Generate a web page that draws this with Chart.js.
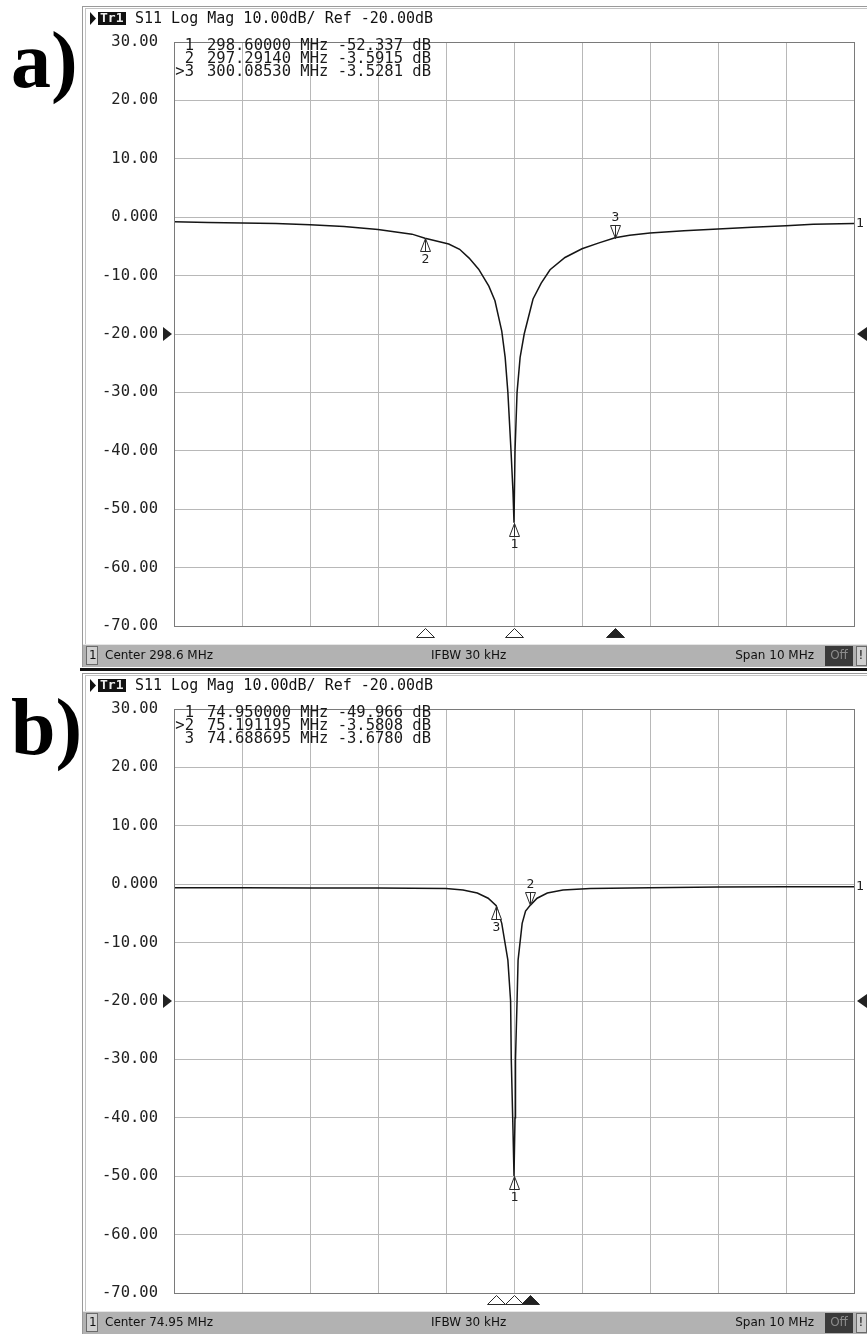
<!DOCTYPE html>
<html>
<head>
<meta charset="utf-8">
<title>S11 resonance</title>
<script src="https://cdn.jsdelivr.net/npm/chart.js@4"></script>
<style>
  body { margin: 0; background: #fff; }
  canvas { display: block; }
</style>
</head>
<body>
<canvas id="panelA" width="867" height="667"></canvas>
<canvas id="panelB" width="867" height="667"></canvas>
<script>
// trace a: S11 magnitude around 298.6 MHz
const freqA = [293.6, 294.1, 294.6, 295.1, 295.6, 296.1, 296.6, 297.1, 297.2914, 297.64,
  297.8, 297.94, 298.08, 298.23, 298.32, 298.42, 298.47, 298.51, 298.556, 298.585,
  298.6, 298.615, 298.645, 298.69, 298.75, 298.88, 299.0, 299.13, 299.35, 299.6,
  299.85, 300.0853, 300.3, 300.6, 301.1, 301.6, 302.1, 302.6, 303.0, 303.6];
const dbA = [-0.8, -0.9, -1.0, -1.1, -1.3, -1.6, -2.1, -2.9, -3.5915, -4.6,
  -5.5, -7.0, -8.9, -11.8, -14.3, -19.5, -24, -30, -40, -47,
  -52.337, -40, -30, -24, -20, -14, -11.3, -9.0, -6.9, -5.4,
  -4.4, -3.5281, -3.1, -2.7, -2.3, -2.0, -1.7, -1.45, -1.2, -1.1];

// trace b: S11 magnitude around 74.95 MHz
const freqB = [69.95, 70.95, 71.95, 72.95, 73.45, 73.95, 74.2, 74.41, 74.57, 74.688695,
  74.77, 74.86, 74.9, 74.91, 74.935, 74.95, 74.965, 74.972, 74.995, 75.01,
  75.07, 75.12, 75.191195, 75.29, 75.44, 75.67, 76.07, 76.95, 77.95, 78.95, 79.95];
const dbB = [-0.6, -0.6, -0.65, -0.65, -0.7, -0.75, -1.0, -1.5, -2.4, -3.678,
  -6.7, -13, -20, -30, -42, -49.966, -40, -30, -20, -13,
  -6.7, -4.6, -3.5808, -2.4, -1.5, -1.0, -0.75, -0.6, -0.5, -0.45, -0.45];

// markers
const markerFreqA = [298.6, 297.2914, 300.0853];
const markerDbA = [-52.337, -3.5915, -3.5281];
const markerAboveA = [false, false, true];
const activeMarkerA = 3;

const markerFreqB = [74.95, 75.191195, 74.688695];
const markerDbB = [-49.966, -3.5808, -3.678];
const markerAboveB = [false, true, false];
const activeMarkerB = 2;

// sweep settings
const centerA = 298.6;
const centerB = 74.95;
const spanMHz = 10;
const dbMin = -70, dbMax = 30, dbStep = 10, refLevel = -20;
const traceTitle = 'S11 Log Mag 10.00dB/ Ref -20.00dB';

const MONO = '"DejaVu Sans Mono", monospace';
const SANS = '"DejaVu Sans", sans-serif';

const panels = {
  panelA: { letter: 'a)', center: centerA, mf: markerFreqA, md: markerDbA, above: markerAboveA, active: activeMarkerA, sepTop: false },
  panelB: { letter: 'b)', center: centerB, mf: markerFreqB, md: markerDbB, above: markerAboveB, active: activeMarkerB, sepTop: true }
};

function tri(ctx, x, y, w, h, dir, fill) {
  // tip at (x, y); dir = 1 -> body below the tip, -1 -> body above
  ctx.beginPath();
  ctx.moveTo(x, y);
  ctx.lineTo(x - w / 2, y + dir * h);
  ctx.lineTo(x + w / 2, y + dir * h);
  ctx.closePath();
  if (fill) { ctx.fillStyle = fill; ctx.fill(); }
  ctx.stroke();
}

const vnaFrame = {
  id: 'vnaFrame',
  beforeDraw(chart) {
    const p = panels[chart.canvas.id];
    const ctx = chart.ctx;
    ctx.save();
    ctx.fillStyle = '#fff';
    ctx.fillRect(0, 0, chart.width, chart.height);

    if (p.sepTop) {
      ctx.fillStyle = '#111';
      ctx.fillRect(80, 1, 787, 3);
    }
    // window edges
    ctx.fillStyle = '#9a9a9a';
    ctx.fillRect(82, 6, 785, 1);
    ctx.fillRect(82, 6, 1, 661);
    ctx.fillStyle = '#c4c4c4';
    ctx.fillRect(85, 8, 1, 659);
    ctx.fillRect(85, 8, 782, 1);

    // panel letter
    ctx.fillStyle = '#000';
    ctx.font = 'bold 80px "Liberation Serif", serif';
    ctx.textBaseline = 'alphabetic';
    ctx.textAlign = 'left';
    ctx.fillText(p.letter, 11, 87);

    // trace title
    ctx.fillStyle = '#111';
    ctx.beginPath();
    ctx.moveTo(90, 12); ctx.lineTo(96, 18.5); ctx.lineTo(90, 25); ctx.closePath();
    ctx.fill();
    ctx.fillRect(98, 12, 28, 13);
    ctx.fillStyle = '#eee';
    ctx.font = 'bold 13px ' + MONO;
    ctx.textBaseline = 'middle';
    ctx.fillText('Tr1', 100, 19);
    ctx.fillStyle = '#111';
    ctx.font = '15px ' + MONO;
    ctx.fillText(traceTitle, 135, 19);

    // status bar
    ctx.fillStyle = '#b2b2b2';
    ctx.fillRect(83, 644, 784, 23);
    ctx.fillStyle = '#e6e6e6';
    ctx.fillRect(83, 644, 784, 1);
    ctx.fillStyle = '#d0d0d0';
    ctx.fillRect(86, 646, 12, 19);
    ctx.strokeStyle = '#6a6a6a';
    ctx.lineWidth = 1;
    ctx.strokeRect(86.5, 646.5, 11, 18);
    ctx.fillStyle = '#111';
    ctx.font = '12px ' + SANS;
    ctx.fillText('1', 89, 656);
    ctx.fillText('Center ' + p.center + ' MHz', 105, 656);
    ctx.fillText('IFBW 30 kHz', 431, 656);
    ctx.textAlign = 'right';
    ctx.fillText('Span ' + spanMHz + ' MHz', 814, 656);
    ctx.fillStyle = '#3a3a3a';
    ctx.fillRect(825, 646, 28, 20);
    ctx.fillStyle = '#8c8c8c';
    ctx.textAlign = 'center';
    ctx.fillText('Off', 839, 656);
    ctx.fillStyle = '#d0d0d0';
    ctx.fillRect(856, 646, 11, 20);
    ctx.strokeRect(856.5, 646.5, 10, 19);
    ctx.fillStyle = '#111';
    ctx.fillText('!', 861, 656);
    ctx.restore();
  },
  afterDraw(chart) {
    const p = panels[chart.canvas.id];
    const ctx = chart.ctx;
    const xs = chart.scales.x, ys = chart.scales.y;
    const area = chart.chartArea;
    ctx.save();
    ctx.strokeStyle = '#7a7a7a';
    ctx.lineWidth = 1;
    ctx.strokeRect(Math.round(area.left) + 0.5, Math.round(area.top) + 0.5,
      Math.round(area.right - area.left), Math.round(area.bottom - area.top));

    // marker readout table
    ctx.fillStyle = '#1a1a1a';
    ctx.font = '15.5px ' + MONO;
    ctx.textBaseline = 'middle';
    p.mf.forEach((f, i) => {
      const y = 46 + i * 13;
      const num = (i + 1 === p.active ? '>' : '') + (i + 1);
      ctx.textAlign = 'right';
      ctx.fillText(num, 194, y);
      ctx.textAlign = 'left';
      ctx.fillText(f.toPrecision(8) + ' MHz ' + p.md[i].toPrecision(5) + ' dB', 207, y);
    });

    // reference level arrows
    const yRef = ys.getPixelForValue(refLevel);
    ctx.fillStyle = '#222';
    ctx.beginPath();
    ctx.moveTo(163, yRef - 7); ctx.lineTo(172, yRef); ctx.lineTo(163, yRef + 7); ctx.closePath();
    ctx.fill();
    ctx.beginPath();
    ctx.moveTo(867, yRef - 7); ctx.lineTo(857, yRef); ctx.lineTo(867, yRef + 7); ctx.closePath();
    ctx.fill();

    // trace end label
    const data = chart.data.datasets[0].data;
    const last = data[data.length - 1];
    ctx.fillStyle = '#222';
    ctx.font = '13px ' + MONO;
    ctx.textAlign = 'left';
    ctx.fillText('1', 856, ys.getPixelForValue(last.y));

    // markers on the trace
    ctx.strokeStyle = '#2a2a2a';
    ctx.lineWidth = 1;
    ctx.textAlign = 'center';
    p.mf.forEach((f, i) => {
      const x = Math.round(xs.getPixelForValue(f)) + 0.5;
      const y = Math.round(ys.getPixelForValue(p.md[i])) + 0.5;
      const dir = p.above[i] ? -1 : 1;
      tri(ctx, x, y, 10, 13, dir, '#fff');
      ctx.beginPath();
      ctx.moveTo(x, y); ctx.lineTo(x, y + dir * 13);
      ctx.stroke();
      ctx.fillStyle = '#222';
      ctx.fillText(String(i + 1), x, y + dir * 21);
    });

    // marker position indicators under the grid
    p.mf.forEach((f, i) => {
      const x = Math.round(xs.getPixelForValue(f)) + 0.5;
      const active = i + 1 === p.active;
      ctx.beginPath();
      ctx.moveTo(x, 628.5); ctx.lineTo(x - 9, 637.5); ctx.lineTo(x + 9, 637.5); ctx.closePath();
      ctx.fillStyle = active ? '#222' : '#fff';
      ctx.fill();
      ctx.stroke();
    });
    ctx.restore();
  }
};

function makeChart(id, freqs, dbs, center) {
  const lo = center - spanMHz / 2, hi = center + spanMHz / 2;
  return new Chart(document.getElementById(id), {
    type: 'line',
    data: {
      datasets: [{
        data: freqs.map((f, i) => ({ x: f, y: dbs[i] })),
        borderColor: '#151515',
        borderWidth: 1.5,
        pointRadius: 0,
        tension: 0,
        fill: false
      }]
    },
    options: {
      responsive: false,
      animation: false,
      devicePixelRatio: 1,
      layout: { padding: { top: 42, bottom: 41, left: 0, right: 13 } },
      plugins: { legend: { display: false }, tooltip: { enabled: false } },
      scales: {
        x: {
          type: 'linear',
          min: lo,
          max: hi,
          afterBuildTicks(scale) {
            const t = [];
            for (let k = 0; k <= 10; k++) t.push({ value: lo + k * spanMHz / 10 });
            scale.ticks = t;
          },
          ticks: { display: false },
          grid: { color: '#b8b8b8', drawTicks: false },
          border: { color: '#7a7a7a' }
        },
        y: {
          min: dbMin,
          max: dbMax,
          afterFit(scale) { scale.width = 174; },
          ticks: {
            stepSize: dbStep,
            padding: 16,
            color: '#222',
            font: { family: MONO, size: 15.5 },
            callback: v => (v === 0 ? '0.000' : v.toFixed(2))
          },
          grid: { color: '#b8b8b8', drawTicks: false },
          border: { color: '#7a7a7a' }
        }
      }
    },
    plugins: [vnaFrame]
  });
}

makeChart('panelA', freqA, dbA, centerA);
makeChart('panelB', freqB, dbB, centerB);
</script>
</body>
</html>
